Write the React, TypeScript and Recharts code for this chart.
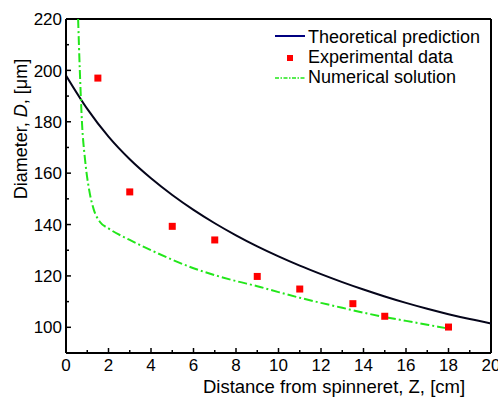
import {
  ComposedChart,
  Line,
  Scatter,
  XAxis,
  YAxis,
  ReferenceLine,
  Legend,
} from "recharts";

const FONT = '"Liberation Sans", Arial, sans-serif';

// Theoretical prediction curve
const theoryZ = [0, 1, 2, 3, 4, 5, 6, 7, 8, 9, 10, 11, 12, 13, 14, 15, 16, 17, 18, 19, 20];
const theoryD = [198, 185, 174.2, 165.4, 158, 151.5, 145.7, 140.5, 135.8, 131.5, 127.6, 124, 120.7, 117.6, 114.7, 112, 109.5, 107.2, 105.1, 103.2, 101.5];

// Experimental data points
const expZ = [1.5, 3, 5, 7, 9, 11, 13.5, 15, 18];
const expD = [197, 152.7, 139.3, 134, 119.8, 114.9, 109.2, 104.3, 100.1];

// Numerical solution curve
const numZ = [0.57, 0.65, 0.75, 0.9, 1.1, 1.3, 1.6, 2, 3, 4, 5, 6, 7, 8, 9, 10, 11, 12, 13, 14, 15, 16, 17, 18];
const numD = [220, 200, 180, 165, 153, 146, 141, 138.5, 134, 130, 126.3, 123, 120.3, 118, 116, 113.7, 111.5, 109.5, 107.6, 105.7, 104, 102.5, 101, 99.5];

const xTicks = [0, 1, 2, 3, 4, 5, 6, 7, 8, 9, 10, 11, 12, 13, 14, 15, 16, 17, 18, 19, 20];
const yTicks = [100, 110, 120, 130, 140, 150, 160, 170, 180, 190, 200, 210, 220];

const theoryData = theoryZ.map((z, i) => ({ z, d: theoryD[i] }));
const expData = expZ.map((z, i) => ({ z, d: expD[i] }));
const numData = numZ.map((z, i) => ({ z, d: numD[i] }));

const GREEN = "#22e61a";
const DASH = "9 3 2 3";

function XTick(props: any) {
  const { x, y, payload } = props;
  const major = payload.value % 2 === 0;
  return (
    <g>
      {payload.value > 0 && payload.value < 20 && (
        <line x1={x} x2={x} y1={y} y2={y - (major ? 5 : 3)} stroke="#000" strokeWidth={1.5} />
      )}
      {major && (
        <text x={x} y={y + 18} textAnchor="middle" fontSize={17} fontFamily={FONT} fill="#000">
          {payload.value}
        </text>
      )}
    </g>
  );
}

function YTick(props: any) {
  const { x, y, payload } = props;
  const major = payload.value % 20 === 0;
  return (
    <g>
      {payload.value < 220 && (
        <line x1={x} x2={x + (major ? 5 : 3)} y1={y} y2={y} stroke="#000" strokeWidth={1.5} />
      )}
      {major && (
        <text x={x - 4} y={y} dy="0.36em" textAnchor="end" fontSize={17} fontFamily={FONT} fill="#000">
          {payload.value}
        </text>
      )}
    </g>
  );
}

function ChartLegend() {
  const textStyle = { fontSize: 18, fontFamily: FONT, fill: "#000" };
  return (
    <svg width={228} height={70}>
      <line x1={5} x2={35} y1={12} y2={12} stroke="#000080" strokeWidth={2} />
      <text x={38} y={13} dy="0.36em" {...textStyle}>Theoretical prediction</text>
      <rect x={17} y={31} width={6} height={6} fill="#ff0000" />
      <text x={38} y={33} dy="0.36em" {...textStyle}>Experimental data</text>
      <line x1={5} x2={35} y1={54} y2={54} stroke={GREEN} strokeWidth={1.5} strokeDasharray="4 1.5 1.5 1.5" />
      <text x={38} y={53} dy="0.36em" {...textStyle}>Numerical solution</text>
    </svg>
  );
}

export default function App() {
  return (
    <div style={{ position: "absolute", left: 0, top: 0, width: 498, height: 398, background: "#fff" }}>
      <ComposedChart width={498} height={398} margin={{ top: 19, right: 7, bottom: 0, left: 0 }}>
        <XAxis
          dataKey="z"
          type="number"
          domain={[0, 20]}
          ticks={xTicks}
          interval={0}
          height={45}
          tickSize={0}
          tickMargin={0}
          tick={<XTick />}
          tickLine={false}
          axisLine={{ stroke: "#000", strokeWidth: 2 }}
          allowDataOverflow
          label={{
            content: () => (
              <text x={334} y={393} textAnchor="middle" fontSize={18.5} fontFamily={FONT} fill="#000">
                Distance from spinneret, Z, [cm]
              </text>
            ),
          }}
        />
        <YAxis
          dataKey="d"
          type="number"
          domain={[90, 220]}
          ticks={yTicks}
          interval={0}
          width={66}
          tickSize={0}
          tickMargin={0}
          tick={<YTick />}
          tickLine={false}
          axisLine={{ stroke: "#000", strokeWidth: 2 }}
          allowDataOverflow
          label={{
            content: () => (
              <text
                x={21}
                y={129}
                transform="rotate(-90 21 129)"
                textAnchor="middle"
                dominantBaseline="central"
                fontSize={18}
                fontFamily={FONT}
                fill="#000"
              >
                Diameter, <tspan fontStyle="italic">D</tspan>, [μm]
              </text>
            ),
          }}
        />
        <ReferenceLine y={220} stroke="#000" strokeWidth={2} />
        <ReferenceLine x={20} stroke="#000" strokeWidth={2} />
        <Line
          data={theoryData}
          dataKey="d"
          type="monotone"
          stroke="#05051a"
          strokeWidth={2}
          dot={false}
          isAnimationActive={false}
        />
        <Line
          data={numData}
          dataKey="d"
          type="monotone"
          stroke={GREEN}
          strokeWidth={2}
          strokeDasharray={DASH}
          dot={false}
          isAnimationActive={false}
        />
        <Scatter
          data={expData}
          dataKey="d"
          fill="#ff0000"
          isAnimationActive={false}
          shape={(p: any) => <rect x={p.cx - 3.5} y={p.cy - 3.5} width={7} height={7} fill="#ff0000" />}
        />
        <Legend
          layout="vertical"
          align="center"
          verticalAlign="middle"
          wrapperStyle={{ left: 270, top: 24, width: 228, height: 70 }}
          content={() => <ChartLegend />}
        />
      </ComposedChart>
    </div>
  );
}
